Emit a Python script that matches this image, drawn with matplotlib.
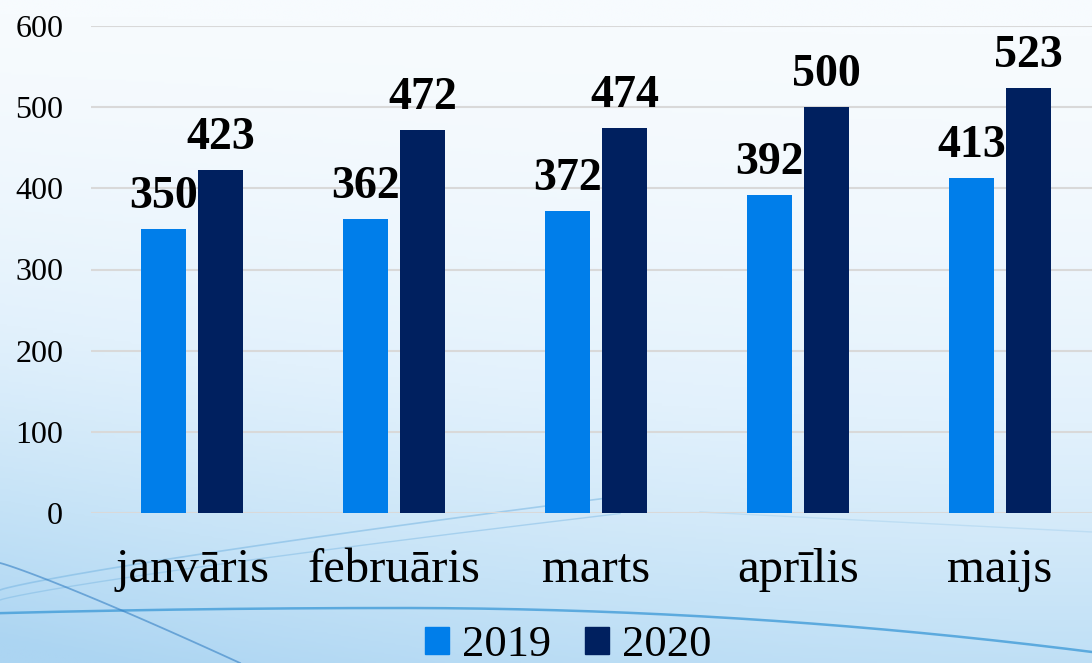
import numpy as np
import matplotlib
matplotlib.use("Agg")
import matplotlib.pyplot as plt
from matplotlib.colors import LinearSegmentedColormap
from matplotlib.patches import Patch

categories = ["janvāris", "februāris", "marts", "aprīlis", "maijs"]
values_2019 = [350, 362, 372, 392, 413]
values_2020 = [423, 472, 474, 500, 523]
series_labels = ["2019", "2020"]
yticks = [0, 100, 200, 300, 400, 500, 600]

c2019 = "#007EEA"
c2020 = "#00205F"

W, H = 1092, 663
fig = plt.figure(figsize=(W / 100, H / 100), dpi=100)

# background gradient (decorative)
bg = fig.add_axes([0, 0, 1, 1], zorder=-10)
yy = np.linspace(0, 1, 300)[:, None]
xx = np.linspace(0, 1, 400)[None, :]
t = np.clip((yy ** 1.8) * 0.75 + (1 - xx) ** 2 * (yy ** 1.2) * 0.3, 0, 1)
cmap = LinearSegmentedColormap.from_list("bgc", ["#F7FBFE", "#E2F1FC", "#C6E3F7", "#ACD5F2"])
bg.imshow(t, cmap=cmap, aspect="auto", extent=[0, 1, 1, 0], vmin=0, vmax=1)
xs = np.linspace(0, 1, 300)
px = xs * W
arc = 608 + 45 * ((px - 400) / 700) ** 2 * np.where(px > 400, 1.0, 0.35)
bg.plot(xs, arc / H, color="#3A98D6", lw=1.8, alpha=0.75)
xr = np.linspace(0, 620, 200)
bg.plot(xr / W, (590 - 78 * (xr / 500) ** 0.85) / H, color="#78B6E2", lw=1.2, alpha=0.55)
bg.plot(xr / W, (600 - 72 * (xr / 500) ** 0.85) / H, color="#78B6E2", lw=1.0, alpha=0.45)
xd = np.linspace(0, 240, 100)
bg.plot(xd / W, (563 + 100 * (xd / 240) ** 1.1) / H, color="#3580C4", lw=1.3, alpha=0.6)
xe = np.linspace(700, 1092, 100)
bg.plot(xe / W, (512 + 20 * ((xe - 700) / 392)) / H, color="#9CCBEB", lw=1.0, alpha=0.4)
bg.set_xlim(0, 1)
bg.set_ylim(1, 0)
bg.axis("off")

left = 91 / W
bottom = 1 - 513 / H
width = 1010 / W
height = (513 - 26) / H
ax = fig.add_axes([left, bottom, width, height])
ax.patch.set_alpha(0)

x = np.arange(len(categories))
bw = 45 / 202
off = 28.5 / 202
b1 = ax.bar(x - off, values_2019, bw, color=c2019, zorder=3)
b2 = ax.bar(x + off, values_2020, bw, color=c2020, zorder=3)

ax.set_xlim(-0.5, 4.5)
ax.set_ylim(0, 600)
ax.yaxis.grid(True, color="#D9D9D9", lw=1.5, zorder=0)
ax.set_axisbelow(True)
for s in ax.spines.values():
    s.set_visible(False)
ax.tick_params(axis="both", length=0)
ax.set_yticks(yticks)
ax.set_yticklabels([str(v) for v in yticks], fontsize=23, fontfamily="Liberation Serif")
ax.tick_params(axis="y", pad=20)
ax.set_xticks(x)
ax.set_xticklabels(categories, fontsize=35, fontfamily="Liberation Serif")
ax.tick_params(axis="x", pad=25)

for bars, vals in ((b1, values_2019), (b2, values_2020)):
    for r, v in zip(bars, vals):
        ax.annotate(str(v), (r.get_x() + r.get_width() / 2, v), xytext=(0, 8),
                    textcoords="offset points", ha="center", va="bottom",
                    fontsize=33, fontweight="bold", fontfamily="Liberation Serif", zorder=5)

handles = [Patch(color=c2019), Patch(color=c2020)]
fig.legend(handles, series_labels, loc="center", bbox_to_anchor=(568 / W, 1 - 645 / H),
           ncol=2, frameon=False, prop={"family": "Liberation Serif", "size": 32},
           handlelength=0.54, handleheight=0.54, handletextpad=0.29, columnspacing=0.76,
           borderpad=0.1)

fig.savefig("out.png", dpi=100)
